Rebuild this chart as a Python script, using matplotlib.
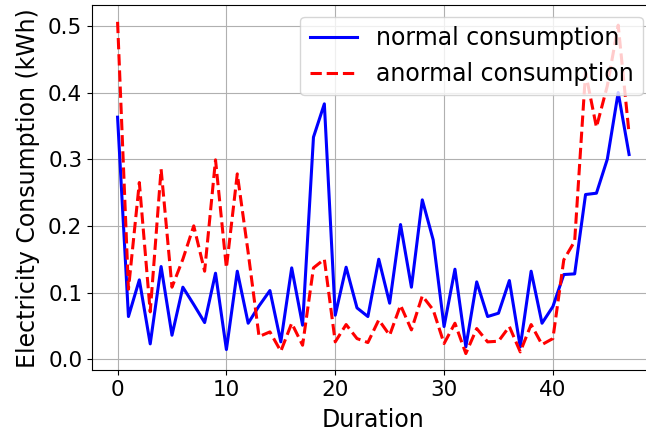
import matplotlib
matplotlib.use("Agg")
import matplotlib.pyplot as plt
import numpy as np

normal = [0.363, 0.064, 0.119, 0.023, 0.139, 0.036, 0.108, 0.082, 0.055, 0.129,
          0.0145, 0.132, 0.054, 0.080, 0.103, 0.026, 0.137, 0.051, 0.333, 0.383,
          0.066, 0.138, 0.077, 0.064, 0.150, 0.084, 0.202, 0.108, 0.239, 0.179,
          0.049, 0.135, 0.0185, 0.116, 0.064, 0.069, 0.118, 0.0185, 0.132, 0.054,
          0.079, 0.127, 0.128, 0.247, 0.249, 0.300, 0.400, 0.307]
anormal = [0.506, 0.105, 0.265, 0.071, 0.285, 0.108, 0.150, 0.200, 0.132, 0.299,
           0.137, 0.278, 0.160, 0.034, 0.041, 0.012, 0.054, 0.021, 0.137, 0.150,
           0.026, 0.052, 0.031, 0.025, 0.059, 0.036, 0.081, 0.044, 0.095, 0.074,
           0.0235, 0.054, 0.0085, 0.046, 0.026, 0.027, 0.049, 0.011, 0.052, 0.022,
           0.031, 0.149, 0.177, 0.430, 0.348, 0.410, 0.501, 0.338]
x = np.arange(len(normal))

fig = plt.figure(figsize=(6.46, 4.37), dpi=100)
ax = fig.add_axes([0.1424, 0.153, 0.871, 0.835])
ax.plot(x, normal, color='blue', lw=2.2, label='normal consumption')
ax.plot(x, anormal, color='red', lw=2.2, ls='--', label='anormal consumption')
ax.grid(True)
ax.set_xticks([0, 10, 20, 30, 40])
ax.tick_params(labelsize=15.5)
ax.set_xlabel('Duration', fontsize=17, labelpad=6)
ax.set_ylabel('Electricity Consumption (kWh)', fontsize=17, labelpad=6)
ax.legend(loc='upper right', bbox_to_anchor=(643/646, 1-16.7/437),
          bbox_transform=fig.transFigure, borderaxespad=0, fontsize=17)
fig.savefig('out.png', dpi=100)
